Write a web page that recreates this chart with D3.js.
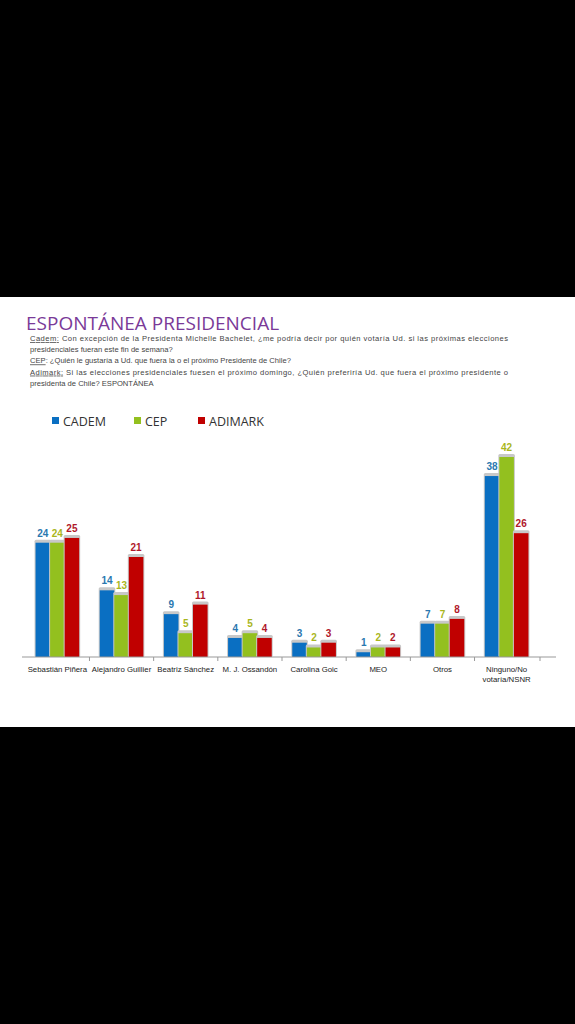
<!DOCTYPE html>
<html>
<head>
<meta charset="utf-8">
<script src="https://cdn.jsdelivr.net/npm/d3@7"></script>
<style>
  body { margin: 0; background: #000; }
  svg { display: block; }
</style>
</head>
<body>
<svg id="chart" width="575" height="1024"></svg>
<script>
const categories = ['Sebastián Piñera', 'Alejandro  Guillier', 'Beatriz Sánchez', 'M. J. Ossandón', 'Carolina Goic', 'MEO', 'Otros', 'Ninguno/No|votaría/NSNR'];
const seriesNames = ['CADEM', 'CEP', 'ADIMARK'];
const cadem = [24, 14, 9, 4, 3, 1, 7, 38];
const cep = [24, 13, 5, 5, 2, 2, 7, 42];
const adimark = [25, 21, 11, 4, 3, 2, 8, 26];
const barColors = ['#0a6fc2', '#93c01f', '#c00000'];
const labelColors = ['#2a78b0', '#a9b61c', '#b0182a'];

const svg = d3.select('#chart');

// white slide area
svg.append('rect').attr('x', 0).attr('y', 297).attr('width', 575).attr('height', 430).attr('fill', '#fff');

svg.append('text').attr('x', 26).attr('y', 330)
  .style('font-family', 'Open Sans, sans-serif').style('font-size', '19px')
  .style('fill', '#7a3a98').text('ESPONTÁNEA PRESIDENCIAL');

const notes = [
  [['Cadem:', true], [' Con excepción de la Presidenta Michelle Bachelet, ¿me podría decir por quién votaría Ud. si las próximas elecciones', false]],
  [['presidenciales fueran este fin de semana?', false]],
  [['CEP', true], [': ¿Quién le gustaría a Ud. que fuera la o el próximo Presidente de Chile?', false]],
  [['Adimark:', true], [' Si las elecciones presidenciales fuesen el próximo domingo, ¿Quién preferiría Ud. que fuera el próximo presidente o', false]],
  [['presidenta de Chile? ESPONTÁNEA', false]]
];
const justified = [true, false, false, true, false];
notes.forEach((parts, i) => {
  const t = svg.append('text').attr('x', 30).attr('y', 341 + i * 11.2)
    .style('font-family', 'Liberation Sans, sans-serif').style('font-size', '7.6px').style('fill', '#444');
  if (justified[i]) t.attr('textLength', 478).attr('lengthAdjust', 'spacing');
  parts.forEach(([s, u]) => t.append('tspan').text(s).style('text-decoration', u ? 'underline' : null));
});

// legend
const legendX = [52, 134, 198];
seriesNames.forEach((n, i) => {
  svg.append('rect').attr('x', legendX[i]).attr('y', 417).attr('width', 7).attr('height', 7).attr('fill', barColors[i]);
  svg.append('text').attr('x', legendX[i] + 11).attr('y', 425.5)
    .style('font-family', 'Open Sans, sans-serif').style('font-size', '12.5px').style('fill', '#333').text(n);
});

const x0 = d3.scaleBand().domain(categories).range([24, 540]).paddingInner(0.32).paddingOuter(0.18);
const x1 = d3.scaleBand().domain(seriesNames).range([0, x0.bandwidth()]);
const y = d3.scaleLinear().domain([0, 42]).range([657, 457]);

const series = [cadem, cep, adimark];
const g = svg.append('g');
categories.forEach((c, ci) => {
  series.forEach((vals, si) => {
    const v = vals[ci];
    const bx = x0(c) + x1(seriesNames[si]);
    // soft shadow
    g.append('rect').attr('x', bx - 1).attr('y', y(v) - 3).attr('width', x1.bandwidth() + 2).attr('height', 657 - y(v) + 3)
      .attr('fill', '#c8c8c8').attr('rx', 1.5);
    g.append('rect').attr('x', bx).attr('y', y(v)).attr('width', x1.bandwidth()).attr('height', 657 - y(v))
      .attr('fill', barColors[si]);
    g.append('text').attr('x', bx + x1.bandwidth() / 2).attr('y', y(v) - 6)
      .attr('text-anchor', 'middle').style('font-family', 'Liberation Sans, sans-serif')
      .style('font-size', '10px').style('font-weight', 'bold').style('fill', labelColors[si]).text(v);
  });
});

// axis
svg.append('line').attr('x1', 22).attr('x2', 556).attr('y1', 657).attr('y2', 657).attr('stroke', '#999');
const bounds = categories.map(c => x0(c) - x0.step() * x0.paddingInner() / 2);
bounds.slice(1).concat([540]).forEach(bx => {
  svg.append('line').attr('x1', bx).attr('x2', bx).attr('y1', 657).attr('y2', 661).attr('stroke', '#999');
});
categories.forEach(c => {
  const t = svg.append('text').attr('x', x0(c) + x0.bandwidth() / 2).attr('y', 672)
    .attr('text-anchor', 'middle').style('font-family', 'Liberation Sans, sans-serif')
    .style('font-size', '7.8px').style('fill', '#222');
  c.split('|').forEach((line, i) => t.append('tspan').attr('x', x0(c) + x0.bandwidth() / 2).attr('dy', i ? 10 : 0).text(line));
});
</script>
</body>
</html>
